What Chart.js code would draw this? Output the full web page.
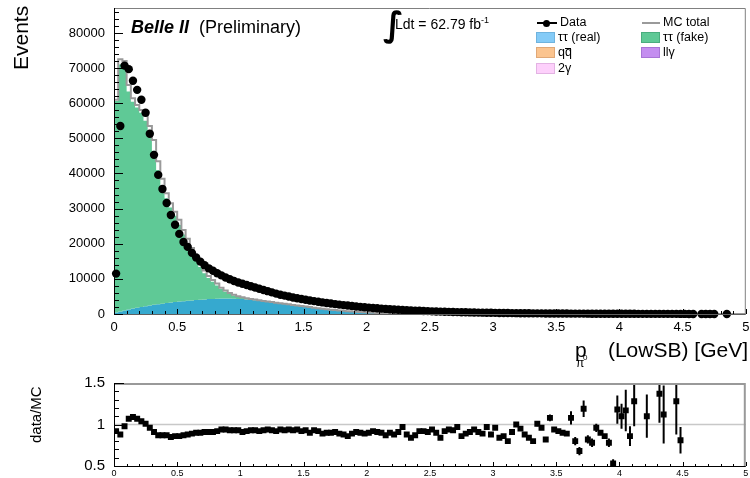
<!DOCTYPE html>
<html>
<head>
<meta charset="utf-8">
<script src="https://cdn.jsdelivr.net/npm/chart.js@4/dist/chart.umd.min.js"></script>
<style>
  body { margin: 0; background: #fff; font-family: "Liberation Sans", Arial, Helvetica, sans-serif; }
  #wrap { position: relative; width: 750px; height: 478px; overflow: hidden; }
  canvas { position: absolute; left: 0; }
  .t { position: absolute; white-space: nowrap; line-height: 1; color: #000; }
  .lg { font-size: 12.5px; }
  .box { position: absolute; width: 17px; height: 9px; border: 1px solid; }
  .rot { position: absolute; left: 0; top: 0; transform-origin: 0 0; white-space: nowrap; line-height: 1; }
  .bar { position: relative; display: inline-block; }
  .bar::before { content: ""; position: absolute; left: 0.5px; right: 0.5px; top: 1.5px; border-top: 1px solid #000; }
</style>
</head>
<body>
<div id="wrap">
  <canvas id="mainChart" width="750" height="345" style="top:0;width:750px;height:345px"></canvas>
  <canvas id="ratioChart" width="750" height="108" style="top:370px;width:750px;height:108px"></canvas>

  <!-- tiêu đề trục -->
  <div class="rot" style="font-size:21px;transform:translate(10px,70px) rotate(-90deg)">Events</div>
  <div class="rot" style="font-size:15px;transform:translate(28px,443px) rotate(-90deg)">data/MC</div>
  <div class="t" style="font-size:21px;left:575px;top:339px">p</div>
  <div class="t" style="font-size:12px;left:576px;top:357px">π</div>
  <div class="t" style="font-size:8px;left:583px;top:354px">0</div>
  <div class="t" style="font-size:21px;right:2px;top:339px">(LowSB) [GeV]</div>

  <!-- nhãn -->
  <div class="t" style="font-size:18px;left:131px;top:18px;font-weight:bold;font-style:italic">Belle II</div>
  <div class="t" style="font-size:18px;left:199px;top:18px">(Preliminary)</div>
  <div class="t" style="font-size:34px;left:383px;top:7px;font-family:'DejaVu Sans';font-weight:bold">∫</div>
  <div class="t" style="font-size:14px;left:395px;top:17px">Ldt = 62.79 fb<span style="font-size:9px;position:relative;top:-6px">-1</span></div>

  <!-- chú thích -->
  <div style="position:absolute;left:537px;top:22px;width:20px;height:2px;background:#000"></div>
  <div style="position:absolute;left:543px;top:19.5px;width:7px;height:7px;border-radius:50%;background:#000"></div>
  <div class="t lg" style="left:560px;top:16px">Data</div>
  <div style="position:absolute;left:642px;top:22px;width:18px;height:2px;background:#9a9a9a"></div>
  <div class="t lg" style="left:663px;top:16px">MC total</div>

  <div class="box" style="left:536px;top:32px;background:#84cbf7;border-color:#6fb3de"></div>
  <div class="t lg" style="left:558px;top:31px">ττ (real)</div>
  <div class="box" style="left:641px;top:32px;background:#5fc996;border-color:#4aad7e"></div>
  <div class="t lg" style="left:663px;top:31px">ττ (fake)</div>

  <div class="box" style="left:536px;top:47px;background:#fbc48f;border-color:#e0a877"></div>
  <div class="t lg" style="left:558px;top:46px">q<span class="bar">q</span></div>
  <div class="box" style="left:641px;top:47px;background:#c48ef0;border-color:#a875d6"></div>
  <div class="t lg" style="left:663px;top:46px">llγ</div>

  <div class="box" style="left:536px;top:63px;background:#fdd0fb;border-color:#e3b3e3"></div>
  <div class="t lg" style="left:558px;top:62px">2γ</div>
</div>

<script>
// Trục x: 150 bin từ 0 đến 5 GeV
const nBins = 150;
const xMin = 0;
const xMax = 5;

// Nhãn trục
const xTickValues = [0, 0.5, 1, 1.5, 2, 2.5, 3, 3.5, 4, 4.5, 5];
const yTickValues = [0, 10000, 20000, 30000, 40000, 50000, 60000, 70000, 80000];
const ratioTickValues = [0.5, 1, 1.5];

// Dữ liệu (Events / bin)
const dataEvents = [
  11500, 53500, 70700, 69700, 66400, 63800, 61000, 57300, 51300, 45300,
  39600, 35600, 31600, 28200, 25400, 22800, 20500, 19100, 17400, 16100,
  14900, 13900, 13000, 12300, 11600, 11000, 10400, 9900, 9400, 8950,
  8600, 8250, 7900, 7550, 7200, 6850, 6500, 6150, 5800, 5500,
  5230, 4960, 4700, 4480, 4260, 4050, 3850, 3660, 3480, 3300,
  3130, 2970, 2820, 2670, 2530, 2400, 2270, 2150, 2030, 1920,
  1820, 1720, 1620, 1530, 1450, 1370, 1290, 1220, 1150, 1090,
  1030, 970, 910, 860, 810, 760, 720, 680, 640, 600,
  570, 540, 510, 480, 450, 425, 400, 380, 360, 340,
  320, 300, 285, 270, 255, 240, 228, 215, 203, 192,
  182, 172, 163, 154, 146, 138, 131, 124, 117, 111,
  105, 99, 94, 89, 84, 79, 75, 71, 67, 63,
  60, 56, 53, 50, 47, 44, 42, 40, 37, 35,
  33, 31, 29, 27, 25, 23, 21, 19, null, 15,
  14, 12, 11, null, null, 6, null, null, null, null
];

// MC total (đường viền xám)
const mcTotal = [
  61000, 72500, 72000, 65200, 61400, 59500, 58100, 56500, 53500, 49500,
  43500, 38500, 34400, 31500, 29100, 26800, 23900, 21400, 18800, 16500,
  14300, 12400, 10800, 9700, 8700, 7500, 6700, 6000, 5450, 5050,
  4750, 4500, 4300, 4100, 3900, 3720, 3560, 3400, 3230, 3070,
  2900, 2740, 2580, 2425, 2270, 2115, 1965, 1810, 1660, 1510,
  1360, 1230, 1105, 995, 895, 795, 705, 625, 555, 485,
  425, 365, 315, 265, 225, 185, 155, 125, 100, 80,
  62, 47, 36, 26, 19, 13, 8, 5, 3, 0,
  0, 0, 0, 0, 0, 0, 0, 0, 0, 0,
  0, 0, 0, 0, 0, 0, 0, 0, 0, 0,
  0, 0, 0, 0, 0, 0, 0, 0, 0, 0,
  0, 0, 0, 0, 0, 0, 0, 0, 0, 0,
  0, 0, 0, 0, 0, 0, 0, 0, 0, 0,
  0, 0, 0, 0, 0, 0, 0, 0, 0, 0,
  0, 0, 0, 0, 0, 0, 0, 0, 0, 0
];

// ττ (real)
const tauReal = [
  400, 700, 1000, 1300, 1550, 1800, 2000, 2200, 2400, 2600,
  2800, 2950, 3100, 3250, 3400, 3550, 3650, 3750, 3850, 3950,
  4050, 4150, 4250, 4300, 4350, 4400, 4400, 4400, 4350, 4300,
  4250, 4150, 4050, 3900, 3750, 3600, 3450, 3300, 3150, 3000,
  2850, 2700, 2550, 2400, 2250, 2100, 1950, 1800, 1650, 1500,
  1350, 1220, 1100, 990, 890, 790, 700, 620, 550, 480,
  420, 360, 310, 260, 220, 180, 150, 120, 95, 75,
  60, 45, 35, 25, 18, 12, 8, 5, 3, 0,
  0, 0, 0, 0, 0, 0, 0, 0, 0, 0,
  0, 0, 0, 0, 0, 0, 0, 0, 0, 0,
  0, 0, 0, 0, 0, 0, 0, 0, 0, 0,
  0, 0, 0, 0, 0, 0, 0, 0, 0, 0,
  0, 0, 0, 0, 0, 0, 0, 0, 0, 0,
  0, 0, 0, 0, 0, 0, 0, 0, 0, 0,
  0, 0, 0, 0, 0, 0, 0, 0, 0, 0
];

// ττ (fake)
const tauFake = [
  60200, 70300, 70000, 62000, 58900, 57000, 55300, 52800, 49100, 43900,
  38200, 33500, 29850, 27050, 24550, 21800, 19000, 16350, 13800, 11450,
  9300, 7450, 6000, 4900, 3750, 2700, 1950, 1325, 900, 600,
  375, 250, 150, 100, 60, 40, 30, 25, 20, 15,
  12, 10, 8, 6, 5, 4, 0, 0, 0, 0,
  0, 0, 0, 0, 0, 0, 0, 0, 0, 0,
  0, 0, 0, 0, 0, 0, 0, 0, 0, 0,
  0, 0, 0, 0, 0, 0, 0, 0, 0, 0,
  0, 0, 0, 0, 0, 0, 0, 0, 0, 0,
  0, 0, 0, 0, 0, 0, 0, 0, 0, 0,
  0, 0, 0, 0, 0, 0, 0, 0, 0, 0,
  0, 0, 0, 0, 0, 0, 0, 0, 0, 0,
  0, 0, 0, 0, 0, 0, 0, 0, 0, 0,
  0, 0, 0, 0, 0, 0, 0, 0, 0, 0,
  0, 0, 0, 0, 0, 0, 0, 0, 0, 0
];

// Tỉ số data/MC
const ratio = [
  0.92, 0.88, 0.98, 1.07, 1.09, 1.07, 1.04, 1.01, 0.96, 0.91,
  0.87, 0.87, 0.87, 0.85, 0.86, 0.86, 0.87, 0.88, 0.89, 0.90,
  0.90, 0.91, 0.91, 0.91, 0.92, 0.94, 0.94, 0.93, 0.93, 0.93,
  0.91, 0.92, 0.93, 0.93, 0.92, 0.93, 0.94, 0.93, 0.92, 0.94,
  0.93, 0.94, 0.93, 0.94, 0.92, 0.93, 0.90, 0.93, 0.92, 0.89,
  0.90, 0.90, 0.91, 0.89, 0.88, 0.86, 0.89, 0.91, 0.90, 0.89,
  0.90, 0.92, 0.91, 0.90, 0.87, 0.90, 0.88, 0.91, 0.97, 0.88,
  0.84, 0.87, 0.92, 0.92, 0.91, 0.94, 0.90, 0.84, 0.92, 0.94,
  0.93, 0.97, 0.86, 0.89, 0.91, 0.94, 0.91, 0.89, 0.97, 0.88,
  0.96, 0.84, 0.86, 0.80, 0.91, 1.00, 0.95, 0.88, 0.84, 0.80,
  1.01, 0.96, 0.82, 1.08, 0.94, 0.92, 0.90, 0.89, 1.08, 0.80,
  0.68, 1.19, 0.82, 0.78, 0.96, 0.90, 0.86, 0.78, 0.53, 1.18,
  1.10, 1.17, 0.86, 1.28, null, null, 1.10, null, null, 1.37,
  1.12, null, null, 1.28, 0.81, null, null, null, null, null,
  null, null, null, null, null, null, null, null, null, null
];

// Sai số của tỉ số (chỉ những bin thấy được thanh sai số)
const ratioErrBins = [95, 100, 103, 108, 109, 110, 111, 112, 113, 114, 117, 118, 119, 120, 121, 122, 123, 126, 129, 130, 133, 134];
const ratioErrVals = [0.03, 0.03, 0.04, 0.08, 0.05, 0.05, 0.1, 0.05, 0.05, 0.05, 0.05, 0.05, 0.17, 0.15, 0.25, 0.12, 0.3, 0.26, 0.35, 0.35, 0.4, 0.16];

const FONT = '"Liberation Sans", Arial, Helvetica, sans-serif';
Chart.defaults.font.family = FONT;
Chart.defaults.color = '#000';

const binW = (xMax - xMin) / nBins;
const centers = dataEvents.map((_, i) => xMin + (i + 0.5) * binW);

// Chuyển mảng bin thành điểm bậc thang (cạnh trái + điểm cuối)
function asSteps(arr) {
    const pts = arr.map((v, i) => ({ x: xMin + i * binW, y: v }));
    pts.push({ x: xMax, y: arr[arr.length - 1] });
    return pts;
}

// Đặt nhãn cố định cho trục
function fixedTicks(values) {
    return (s) => { s.ticks = values.map((v) => ({ value: v })); };
}

// Khung và vạch chia trục (vạch hướng vào trong như ROOT)
function frameTicks(opt) {
    return {
        id: 'frameTicks',
        afterDraw(chart) {
            const { ctx, chartArea: a } = chart;
            const x = chart.scales.x;
            const y = chart.scales.y;
            ctx.save();
            // khung
            ctx.strokeStyle = opt.frameColor;
            ctx.lineWidth = opt.frameWidth;
            ctx.beginPath();
            ctx.moveTo(a.left, a.top + opt.frameWidth / 2);
            ctx.lineTo(a.right - opt.frameWidth / 2, a.top + opt.frameWidth / 2);
            ctx.lineTo(a.right - opt.frameWidth / 2, a.bottom);
            ctx.stroke();
            // trục
            ctx.strokeStyle = '#000';
            ctx.lineWidth = 1;
            ctx.beginPath();
            ctx.moveTo(a.left + 0.5, a.top);
            ctx.lineTo(a.left + 0.5, a.bottom + 0.5);
            ctx.stroke();
            ctx.strokeStyle = opt.bottomColor;
            ctx.beginPath();
            ctx.moveTo(a.left, a.bottom + 0.5);
            ctx.lineTo(a.right, a.bottom + 0.5);
            ctx.stroke();
            // vạch chia
            ctx.strokeStyle = '#000';
            ctx.beginPath();
            const nx = Math.round((x.max - x.min) / opt.xMinor);
            for (let i = 0; i <= nx; i++) {
                const px = Math.round(x.getPixelForValue(x.min + i * opt.xMinor)) + 0.5;
                const len = (i % opt.xPer === 0) ? opt.xMajorLen : opt.xMinorLen;
                ctx.moveTo(px, a.bottom);
                ctx.lineTo(px, a.bottom - len);
            }
            const ny = Math.floor((y.max - y.min) / opt.yMinor + 1e-6);
            for (let i = 0; i <= ny; i++) {
                const py = Math.round(y.getPixelForValue(y.min + i * opt.yMinor)) + 0.5;
                const len = (i % opt.yPer === 0) ? opt.yMajorLen : opt.yMinorLen;
                ctx.moveTo(a.left, py);
                ctx.lineTo(a.left + len, py);
            }
            ctx.stroke();
            ctx.restore();
        }
    };
}

const noGrid = { display: false, drawTicks: false };

// Biểu đồ chính
const mainChart = new Chart(document.getElementById('mainChart'), {
    type: 'line',
    data: {
        datasets: [
            {
                label: 'Data',
                data: dataEvents.map((v, i) => ({ x: centers[i], y: v })),
                showLine: false,
                pointRadius: 4.2,
                pointBackgroundColor: '#000',
                pointBorderWidth: 0,
                clip: 6
            },
            {
                label: 'MC total',
                data: asSteps(mcTotal),
                stepped: true,
                borderColor: '#9a9a9a',
                borderWidth: 2,
                pointRadius: 0,
                fill: false
            },
            {
                label: 'ττ (fake)',
                data: asSteps(tauReal.map((v, i) => v + tauFake[i])),
                stepped: true,
                borderWidth: 0,
                borderColor: 'transparent',
                backgroundColor: '#5fc996',
                pointRadius: 0,
                fill: 3
            },
            {
                label: 'ττ (real)',
                data: asSteps(tauReal),
                stepped: true,
                borderWidth: 0,
                borderColor: 'transparent',
                backgroundColor: '#36a9cf',
                pointRadius: 0,
                fill: 'origin'
            }
        ]
    },
    options: {
        responsive: false,
        animation: false,
        layout: { padding: { top: 8, right: 2, left: 0, bottom: 0 } },
        plugins: { legend: { display: false }, tooltip: { enabled: false } },
        scales: {
            x: {
                type: 'linear', min: xMin, max: xMax,
                grid: noGrid, border: { display: false },
                ticks: { padding: 6, maxRotation: 0, autoSkip: false, font: { size: 13 }, callback: (v) => String(v) },
                afterBuildTicks: fixedTicks(xTickValues),
                afterFit: (s) => { s.height = 31; s.paddingLeft = 0; s.paddingRight = 0; }
            },
            y: {
                type: 'linear', min: 0, max: 87100,
                grid: noGrid, border: { display: false },
                ticks: { padding: 9, autoSkip: false, font: { size: 13 }, callback: (v) => String(v) },
                afterBuildTicks: fixedTicks(yTickValues),
                afterFit: (s) => { s.width = 114; s.paddingTop = 0; s.paddingBottom = 0; }
            }
        }
    },
    plugins: [frameTicks({
        frameColor: '#808080', frameWidth: 1, bottomColor: '#606060',
        xMinor: 0.1, xPer: 5, xMajorLen: 5, xMinorLen: 3,
        yMinor: 2000, yPer: 5, yMajorLen: 9, yMinorLen: 5
    })]
});

// Đường tham chiếu = 1 và thanh sai số
const ratioExtras = {
    id: 'ratioExtras',
    beforeDatasetsDraw(chart) {
        const { ctx, chartArea: a, scales: { x, y } } = chart;
        ctx.save();
        ctx.strokeStyle = '#c8c8c8';
        ctx.lineWidth = 1.5;
        const py = y.getPixelForValue(1);
        ctx.beginPath();
        ctx.moveTo(a.left, py);
        ctx.lineTo(a.right, py);
        ctx.stroke();
        ctx.beginPath();
        ctx.rect(a.left, a.top, a.right - a.left, a.bottom - a.top);
        ctx.clip();
        ctx.strokeStyle = '#000';
        ctx.lineWidth = 2;
        ctx.beginPath();
        ratioErrBins.forEach((b, k) => {
            const r = ratio[b];
            if (r === null) return;
            const px = x.getPixelForValue(centers[b]);
            ctx.moveTo(px, y.getPixelForValue(r - ratioErrVals[k]));
            ctx.lineTo(px, y.getPixelForValue(r + ratioErrVals[k]));
        });
        ctx.stroke();
        ctx.restore();
    }
};

// Biểu đồ tỉ số
const ratioChart = new Chart(document.getElementById('ratioChart'), {
    type: 'scatter',
    data: {
        datasets: [{
            label: 'data/MC',
            data: ratio.map((v, i) => ({ x: centers[i], y: v })),
            pointStyle: 'rect',
            pointRadius: 4.2,
            pointBackgroundColor: '#000',
            pointBorderWidth: 0,
            clip: 0
        }]
    },
    options: {
        responsive: false,
        animation: false,
        layout: { padding: { top: 13, right: 2, left: 0, bottom: 0 } },
        plugins: { legend: { display: false }, tooltip: { enabled: false } },
        scales: {
            x: {
                type: 'linear', min: xMin, max: xMax,
                grid: noGrid, border: { display: false },
                ticks: { padding: 2, maxRotation: 0, autoSkip: false, font: { size: 9 }, callback: (v) => String(v) },
                afterBuildTicks: fixedTicks(xTickValues),
                afterFit: (s) => { s.height = 12; s.paddingLeft = 0; s.paddingRight = 0; }
            },
            y: {
                type: 'linear', min: 0.5, max: 1.5,
                grid: noGrid, border: { display: false },
                ticks: { padding: 9, autoSkip: false, font: { size: 15 }, callback: (v) => String(v) },
                afterBuildTicks: fixedTicks(ratioTickValues),
                afterFit: (s) => { s.width = 114; s.paddingTop = 0; s.paddingBottom = 0; }
            }
        }
    },
    plugins: [ratioExtras, frameTicks({
        frameColor: '#999999', frameWidth: 2, bottomColor: '#000',
        xMinor: 0.1, xPer: 5, xMajorLen: 4, xMinorLen: 2,
        yMinor: 0.1, yPer: 5, yMajorLen: 10, yMinorLen: 5
    })]
});
</script>
</body>
</html>
